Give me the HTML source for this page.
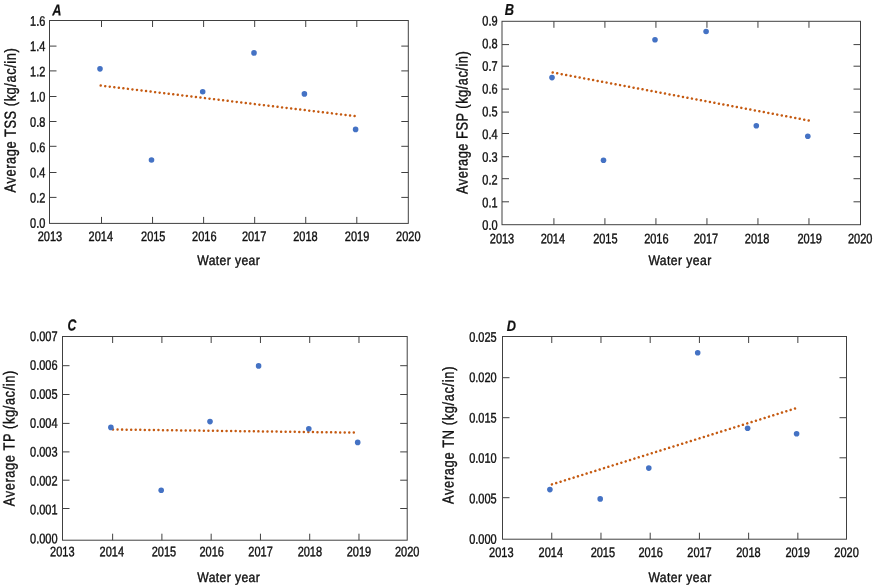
<!DOCTYPE html><html><head><meta charset="utf-8"><title>Figure</title><style>
html,body{margin:0;padding:0;background:#fff;}body{width:873px;height:586px;overflow:hidden;}
svg{display:block;}text{font-family:"Liberation Sans", Arial, sans-serif;fill:#111;stroke:#111;stroke-width:0.4px;}.s4{stroke-width:0.2px}
</style></head><body>
<svg width="873" height="586" viewBox="0 0 873 586">
<rect width="873" height="586" fill="#fff"/>
<g>
<rect x="49.5" y="20.5" width="358.8" height="202.9" fill="none" stroke="#404040" stroke-width="1"/>
<path d="M101.5 20.5v6.5M101.5 223.4v-6.5M152.56 20.5v6.5M152.56 223.4v-6.5M203.62 20.5v6.5M203.62 223.4v-6.5M254.68 20.5v6.5M254.68 223.4v-6.5M305.74 20.5v6.5M305.74 223.4v-6.5M356.8 20.5v6.5M356.8 223.4v-6.5M49.5 197.4h7M408.3 197.4h-7M49.5 172.5h7M408.3 172.5h-7M49.5 146.3h7M408.3 146.3h-7M49.5 121.5h7M408.3 121.5h-7M49.5 96.5h7M408.3 96.5h-7M49.5 70.9h7M408.3 70.9h-7M49.5 46.1h7M408.3 46.1h-7" stroke="#404040" stroke-width="1" fill="none"/>
<text transform="translate(45.4 227.65) rotate(0.05) scale(0.797 1)" font-size="13.8" text-anchor="end">0.0</text>
<text transform="translate(45.4 202.4) rotate(0.05) scale(0.797 1)" font-size="13.8" text-anchor="end">0.2</text>
<text transform="translate(45.4 177.15) rotate(0.05) scale(0.797 1)" font-size="13.8" text-anchor="end">0.4</text>
<text transform="translate(45.4 151.9) rotate(0.05) scale(0.797 1)" font-size="13.8" text-anchor="end">0.6</text>
<text transform="translate(45.4 126.65) rotate(0.05) scale(0.797 1)" font-size="13.8" text-anchor="end">0.8</text>
<text transform="translate(45.4 101.4) rotate(0.05) scale(0.797 1)" font-size="13.8" text-anchor="end">1.0</text>
<text transform="translate(45.4 76.15) rotate(0.05) scale(0.797 1)" font-size="13.8" text-anchor="end">1.2</text>
<text transform="translate(45.4 50.9) rotate(0.05) scale(0.797 1)" font-size="13.8" text-anchor="end">1.4</text>
<text transform="translate(45.4 25.65) rotate(0.05) scale(0.797 1)" font-size="13.8" text-anchor="end">1.6</text>
<text transform="translate(49.89 240.9) rotate(0.05) scale(0.797 1)" font-size="13.8" text-anchor="middle">2013</text>
<text transform="translate(100.85 240.9) rotate(0.05) scale(0.797 1)" font-size="13.8" text-anchor="middle">2014</text>
<text transform="translate(153.26 240.9) rotate(0.05) scale(0.797 1)" font-size="13.8" text-anchor="middle">2015</text>
<text transform="translate(204.27 240.9) rotate(0.05) scale(0.797 1)" font-size="13.8" text-anchor="middle">2016</text>
<text transform="translate(254.13 240.9) rotate(0.05) scale(0.797 1)" font-size="13.8" text-anchor="middle">2017</text>
<text transform="translate(305.39 240.9) rotate(0.05) scale(0.797 1)" font-size="13.8" text-anchor="middle">2018</text>
<text transform="translate(357.1 240.9) rotate(0.05) scale(0.797 1)" font-size="13.8" text-anchor="middle">2019</text>
<text transform="translate(408.31 240.9) rotate(0.05) scale(0.797 1)" font-size="13.8" text-anchor="middle">2020</text>
<text transform="translate(197.3 265) rotate(0.05) scale(0.88 1)" font-size="13.8" textLength="71.02" lengthAdjust="spacing">Water year</text>
<text transform="translate(15.6 192.4) rotate(-89.95) scale(0.8 1)" font-size="16" textLength="180.12" lengthAdjust="spacing">Average TSS (kg/ac/in)</text>
<text transform="translate(52.3 15.6) rotate(0.05) scale(0.8 1)" font-size="16" font-weight="bold" font-style="italic" class="s4">A</text>
<line x1="100.7" y1="85.6" x2="354.9" y2="116.14" stroke="#C55A11" stroke-width="2.5" stroke-linecap="round" stroke-dasharray="0.01 4.5565"/>
<circle cx="100" cy="68.85" r="2.8" fill="#4472C4"/>
<circle cx="151.5" cy="160" r="2.8" fill="#4472C4"/>
<circle cx="202.7" cy="91.7" r="2.8" fill="#4472C4"/>
<circle cx="254" cy="52.9" r="2.8" fill="#4472C4"/>
<circle cx="304.4" cy="93.9" r="2.8" fill="#4472C4"/>
<circle cx="355.6" cy="129.4" r="2.8" fill="#4472C4"/>
</g>
<g>
<rect x="502" y="21.3" width="358.5" height="203.4" fill="none" stroke="#404040" stroke-width="1"/>
<path d="M553.91 21.3v6.5M553.91 224.7v-6.5M604.92 21.3v6.5M604.92 224.7v-6.5M655.93 21.3v6.5M655.93 224.7v-6.5M706.94 21.3v6.5M706.94 224.7v-6.5M757.95 21.3v6.5M757.95 224.7v-6.5M808.96 21.3v6.5M808.96 224.7v-6.5M502 201.8h7M860.5 201.8h-7M502 178.7h7M860.5 178.7h-7M502 156.7h7M860.5 156.7h-7M502 133.5h7M860.5 133.5h-7M502 112.1h7M860.5 112.1h-7M502 89.1h7M860.5 89.1h-7M502 66.2h7M860.5 66.2h-7M502 44.6h7M860.5 44.6h-7" stroke="#404040" stroke-width="1" fill="none"/>
<text transform="translate(497.6 229.85) rotate(0.05) scale(0.797 1)" font-size="13.8" text-anchor="end">0.0</text>
<text transform="translate(497.6 207.14) rotate(0.05) scale(0.797 1)" font-size="13.8" text-anchor="end">0.1</text>
<text transform="translate(497.6 184.43) rotate(0.05) scale(0.797 1)" font-size="13.8" text-anchor="end">0.2</text>
<text transform="translate(497.6 161.72) rotate(0.05) scale(0.797 1)" font-size="13.8" text-anchor="end">0.3</text>
<text transform="translate(497.6 139.01) rotate(0.05) scale(0.797 1)" font-size="13.8" text-anchor="end">0.4</text>
<text transform="translate(497.6 116.29) rotate(0.05) scale(0.797 1)" font-size="13.8" text-anchor="end">0.5</text>
<text transform="translate(497.6 93.58) rotate(0.05) scale(0.797 1)" font-size="13.8" text-anchor="end">0.6</text>
<text transform="translate(497.6 70.87) rotate(0.05) scale(0.797 1)" font-size="13.8" text-anchor="end">0.7</text>
<text transform="translate(497.6 48.16) rotate(0.05) scale(0.797 1)" font-size="13.8" text-anchor="end">0.8</text>
<text transform="translate(497.6 25.45) rotate(0.05) scale(0.797 1)" font-size="13.8" text-anchor="end">0.9</text>
<text transform="translate(502 243.2) rotate(0.05) scale(0.797 1)" font-size="13.8" text-anchor="middle">2013</text>
<text transform="translate(552.86 243.2) rotate(0.05) scale(0.797 1)" font-size="13.8" text-anchor="middle">2014</text>
<text transform="translate(605.37 243.2) rotate(0.05) scale(0.797 1)" font-size="13.8" text-anchor="middle">2015</text>
<text transform="translate(656.38 243.2) rotate(0.05) scale(0.797 1)" font-size="13.8" text-anchor="middle">2016</text>
<text transform="translate(705.94 243.2) rotate(0.05) scale(0.797 1)" font-size="13.8" text-anchor="middle">2017</text>
<text transform="translate(757.05 243.2) rotate(0.05) scale(0.797 1)" font-size="13.8" text-anchor="middle">2018</text>
<text transform="translate(809.66 243.2) rotate(0.05) scale(0.797 1)" font-size="13.8" text-anchor="middle">2019</text>
<text transform="translate(860.22 243.2) rotate(0.05) scale(0.797 1)" font-size="13.8" text-anchor="middle">2020</text>
<text transform="translate(648.4 265) rotate(0.05) scale(0.88 1)" font-size="13.8" textLength="71.36" lengthAdjust="spacing">Water year</text>
<text transform="translate(467.4 194.1) rotate(-89.95) scale(0.8 1)" font-size="16" textLength="178.5" lengthAdjust="spacing">Average FSP (kg/ac/in)</text>
<text transform="translate(504.7 14.95) rotate(0.05) scale(0.8 1)" font-size="16" font-weight="bold" font-style="italic" class="s4">B</text>
<line x1="552.7" y1="72.5" x2="808.99" y2="120.56" stroke="#C55A11" stroke-width="2.5" stroke-linecap="round" stroke-dasharray="0.01 4.5595"/>
<circle cx="552" cy="77.6" r="2.8" fill="#4472C4"/>
<circle cx="603.5" cy="160.3" r="2.8" fill="#4472C4"/>
<circle cx="655" cy="39.7" r="2.8" fill="#4472C4"/>
<circle cx="706.1" cy="31.5" r="2.8" fill="#4472C4"/>
<circle cx="756.3" cy="125.7" r="2.8" fill="#4472C4"/>
<circle cx="807.8" cy="136.2" r="2.8" fill="#4472C4"/>
</g>
<g>
<rect x="62.5" y="336.5" width="344.7" height="203.7" fill="none" stroke="#404040" stroke-width="1"/>
<path d="M112.63 336.5v6.5M112.63 540.2v-6.5M161.9 336.5v6.5M161.9 540.2v-6.5M211.17 336.5v6.5M211.17 540.2v-6.5M260.44 336.5v6.5M260.44 540.2v-6.5M309.71 336.5v6.5M309.71 540.2v-6.5M358.98 336.5v6.5M358.98 540.2v-6.5M62.5 508.5h7M407.2 508.5h-7M62.5 480.2h7M407.2 480.2h-7M62.5 451.9h7M407.2 451.9h-7M62.5 423.4h7M407.2 423.4h-7M62.5 394.5h7M407.2 394.5h-7M62.5 365.7h7M407.2 365.7h-7" stroke="#404040" stroke-width="1" fill="none"/>
<text transform="translate(57.6 543.25) rotate(0.05) scale(0.797 1)" font-size="13.8" text-anchor="end">0.000</text>
<text transform="translate(57.6 514.35) rotate(0.05) scale(0.797 1)" font-size="13.8" text-anchor="end">0.001</text>
<text transform="translate(57.6 485.45) rotate(0.05) scale(0.797 1)" font-size="13.8" text-anchor="end">0.002</text>
<text transform="translate(57.6 456.55) rotate(0.05) scale(0.797 1)" font-size="13.8" text-anchor="end">0.003</text>
<text transform="translate(57.6 427.65) rotate(0.05) scale(0.797 1)" font-size="13.8" text-anchor="end">0.004</text>
<text transform="translate(57.6 398.75) rotate(0.05) scale(0.797 1)" font-size="13.8" text-anchor="end">0.005</text>
<text transform="translate(57.6 369.85) rotate(0.05) scale(0.797 1)" font-size="13.8" text-anchor="end">0.006</text>
<text transform="translate(57.6 340.95) rotate(0.05) scale(0.797 1)" font-size="13.8" text-anchor="end">0.007</text>
<text transform="translate(62.31 556.3) rotate(0.05) scale(0.797 1)" font-size="13.8" text-anchor="middle">2013</text>
<text transform="translate(111.83 556.3) rotate(0.05) scale(0.797 1)" font-size="13.8" text-anchor="middle">2014</text>
<text transform="translate(163.95 556.3) rotate(0.05) scale(0.797 1)" font-size="13.8" text-anchor="middle">2015</text>
<text transform="translate(211.67 556.3) rotate(0.05) scale(0.797 1)" font-size="13.8" text-anchor="middle">2016</text>
<text transform="translate(260.54 556.3) rotate(0.05) scale(0.797 1)" font-size="13.8" text-anchor="middle">2017</text>
<text transform="translate(309.86 556.3) rotate(0.05) scale(0.797 1)" font-size="13.8" text-anchor="middle">2018</text>
<text transform="translate(358.98 556.3) rotate(0.05) scale(0.797 1)" font-size="13.8" text-anchor="middle">2019</text>
<text transform="translate(407.15 556.3) rotate(0.05) scale(0.797 1)" font-size="13.8" text-anchor="middle">2020</text>
<text transform="translate(197.3 582) rotate(0.05) scale(0.88 1)" font-size="13.8" textLength="71.02" lengthAdjust="spacing">Water year</text>
<text transform="translate(14.5 506.2) rotate(-89.95) scale(0.8 1)" font-size="16" textLength="169.37" lengthAdjust="spacing">Average TP (kg/ac/in)</text>
<text transform="translate(67.6 330.6) rotate(0.05) scale(0.77 1)" font-size="16" font-weight="bold" font-style="italic" class="s4">C</text>
<line x1="113" y1="429.5" x2="354.1" y2="432.6" stroke="#C55A11" stroke-width="2.5" stroke-linecap="round" stroke-dasharray="0.01 4.5338"/>
<circle cx="110.9" cy="427.4" r="2.8" fill="#4472C4"/>
<circle cx="161.2" cy="490.2" r="2.8" fill="#4472C4"/>
<circle cx="210" cy="421.6" r="2.8" fill="#4472C4"/>
<circle cx="258.6" cy="365.9" r="2.8" fill="#4472C4"/>
<circle cx="308.8" cy="428.7" r="2.8" fill="#4472C4"/>
<circle cx="357.7" cy="442.4" r="2.8" fill="#4472C4"/>
</g>
<g>
<rect x="502.5" y="336.5" width="344" height="202.7" fill="none" stroke="#404040" stroke-width="1"/>
<path d="M551.75 336.5v6.5M551.75 539.2v-6.5M600.97 336.5v6.5M600.97 539.2v-6.5M650.19 336.5v6.5M650.19 539.2v-6.5M699.41 336.5v6.5M699.41 539.2v-6.5M748.63 336.5v6.5M748.63 539.2v-6.5M797.85 336.5v6.5M797.85 539.2v-6.5M502.5 497.7h7M846.5 497.7h-7M502.5 457.8h7M846.5 457.8h-7M502.5 417.7h7M846.5 417.7h-7M502.5 377.7h7M846.5 377.7h-7" stroke="#404040" stroke-width="1" fill="none"/>
<text transform="translate(496.7 543.65) rotate(0.05) scale(0.797 1)" font-size="13.8" text-anchor="end">0.000</text>
<text transform="translate(496.7 503.25) rotate(0.05) scale(0.797 1)" font-size="13.8" text-anchor="end">0.005</text>
<text transform="translate(496.7 462.85) rotate(0.05) scale(0.797 1)" font-size="13.8" text-anchor="end">0.010</text>
<text transform="translate(496.7 422.45) rotate(0.05) scale(0.797 1)" font-size="13.8" text-anchor="end">0.015</text>
<text transform="translate(496.7 382.05) rotate(0.05) scale(0.797 1)" font-size="13.8" text-anchor="end">0.020</text>
<text transform="translate(496.7 341.65) rotate(0.05) scale(0.797 1)" font-size="13.8" text-anchor="end">0.025</text>
<text transform="translate(501.33 556.9) rotate(0.05) scale(0.797 1)" font-size="13.8" text-anchor="middle">2013</text>
<text transform="translate(550.85 556.9) rotate(0.05) scale(0.797 1)" font-size="13.8" text-anchor="middle">2014</text>
<text transform="translate(602.87 556.9) rotate(0.05) scale(0.797 1)" font-size="13.8" text-anchor="middle">2015</text>
<text transform="translate(650.69 556.9) rotate(0.05) scale(0.797 1)" font-size="13.8" text-anchor="middle">2016</text>
<text transform="translate(699.51 556.9) rotate(0.05) scale(0.797 1)" font-size="13.8" text-anchor="middle">2017</text>
<text transform="translate(748.43 556.9) rotate(0.05) scale(0.797 1)" font-size="13.8" text-anchor="middle">2018</text>
<text transform="translate(797.65 556.9) rotate(0.05) scale(0.797 1)" font-size="13.8" text-anchor="middle">2019</text>
<text transform="translate(846.57 556.9) rotate(0.05) scale(0.797 1)" font-size="13.8" text-anchor="middle">2020</text>
<text transform="translate(648.4 582) rotate(0.05) scale(0.88 1)" font-size="13.8" textLength="71.36" lengthAdjust="spacing">Water year</text>
<text transform="translate(453.6 503.9) rotate(-89.95) scale(0.8 1)" font-size="16" textLength="171.62" lengthAdjust="spacing">Average TN (kg/ac/in)</text>
<text transform="translate(506.7 330.9) rotate(0.05) scale(0.85 1)" font-size="15.0" font-weight="bold" font-style="italic" class="s4">D</text>
<line x1="551.9" y1="484.4" x2="795.29" y2="408.41" stroke="#C55A11" stroke-width="2.5" stroke-linecap="round" stroke-dasharray="0.01 4.5377"/>
<circle cx="549.9" cy="489.6" r="2.8" fill="#4472C4"/>
<circle cx="600.2" cy="498.9" r="2.8" fill="#4472C4"/>
<circle cx="648.8" cy="468.1" r="2.8" fill="#4472C4"/>
<circle cx="697.7" cy="352.8" r="2.8" fill="#4472C4"/>
<circle cx="747.6" cy="428.2" r="2.8" fill="#4472C4"/>
<circle cx="796.6" cy="433.7" r="2.8" fill="#4472C4"/>
</g>
</svg></body></html>
